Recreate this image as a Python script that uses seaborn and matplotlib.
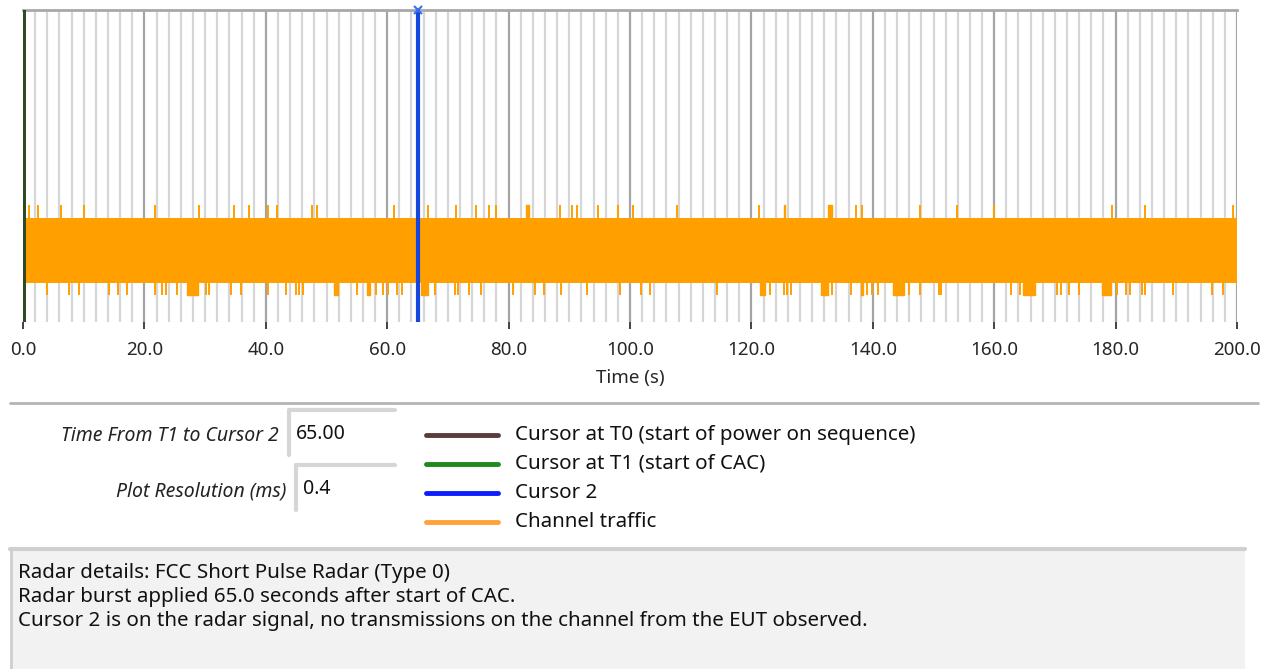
import numpy as np
import pandas as pd
import matplotlib
matplotlib.use("Agg")
import matplotlib.pyplot as plt
import seaborn as sns
from matplotlib.lines import Line2D
from matplotlib.patches import Rectangle

# ---- data ----
t_start, t_end = 0.0, 200.0
band_lo, band_hi = -1.0, 1.0
spike_hi, spike_lo = 1.4, -1.37

cursor_names = ["Cursor at T0 (start of power on sequence)", "Cursor at T1 (start of CAC)",
                "Cursor 2", "Channel traffic"]
cursor_times = [0.0, 0.0, 65.0]
cursor_colors = ["#5a3c3c", "#1e8a1e", "#0b1cff", "#ffa23a"]

spikes_up = [1.0, 2.5, 6.2, 10.1, 21.7, 29.0, 34.8, 37.3, 40.3, 41.8, 47.6, 48.5,
             61.2, 66.7, 71.3, 74.6, 76.7, 78.0, 88.4, 90.5, 91.2, 94.8, 98.0,
             100.5, 107.8, 121.3, 137.3, 138.3, 147.8, 153.8, 159.9, 179.4, 184.8, 199.3]
blocks_up = [(82.9, 83.3), (125.3, 125.6), (132.6, 133.2)]
spikes_down = [3.9, 7.5, 9.2, 14.2, 15.6, 17.1, 21.8, 22.9, 23.5, 25.3, 30.1, 30.6,
               34.3, 35.9, 40.4, 43.4, 44.9, 45.4, 46.1, 55.1, 58.2, 59.3, 60.2, 61.6,
               62.4, 67.9, 71.1, 71.6, 73.4, 75.5, 80.7, 84.4, 85.8, 88.7, 92.9, 98.3,
               101.8, 103.3, 114.3, 123.1, 125.4, 125.9, 126.6, 133.3, 136.4, 139.1,
               139.8, 140.9, 146.0, 147.8, 150.9, 151.3, 162.8, 164.3, 170.3, 171.0,
               172.4, 174.0, 180.3, 181.7, 182.4, 184.3, 184.9, 189.5, 195.9, 197.7]
blocks_down = [(27.0, 28.9), (51.3, 51.9), (56.7, 57.1), (65.5, 66.8), (121.4, 122.2),
               (131.4, 132.6), (138.0, 138.4), (143.4, 145.1), (164.7, 166.8), (177.8, 179.3)]

x_ticks = np.arange(0, 201, 20)
x_minor = np.arange(0, 201, 2)
x_label = "Time (s)"

field_labels = ["Time From T1 to Cursor 2", "Plot Resolution (ms)"]
field_values = ["65.00", "0.4"]

info_lines = ["Radar details: FCC Short Pulse Radar (Type 0)",
              "Radar burst applied 65.0 seconds after start of CAC.",
              "Cursor 2 is on the radar signal, no transmissions on the channel from the EUT observed."]

# ---- figure ----
sns.set_theme(style="white")
plt.rcParams['font.family'] = ['Noto Sans', 'DejaVu Sans']

W, H = 1272, 669
fig = plt.figure(figsize=(W / 100, H / 100), dpi=100)
fig.patch.set_facecolor("white")

def fx(px):
    return px / W

def fy(py):
    return 1 - py / H

ax = fig.add_axes([fx(23), fy(322), fx(1237) - fx(23), fy(10) - fy(322)])
ax.set_xlim(t_start, t_end)
ax.set_ylim(-2.2, 7.4)

orange = "#ffa000"
traffic = pd.DataFrame({"t": [t_start, t_end], "lo": band_lo, "hi": band_hi})
ax.fill_between(traffic["t"], traffic["lo"], traffic["hi"], color=orange, lw=0, zorder=2)
ax.vlines(spikes_up, band_hi, spike_hi, color=orange, lw=1.4, zorder=2)
ax.vlines(spikes_down, spike_lo, band_lo, color=orange, lw=1.4, zorder=2)
for a, b in blocks_up:
    ax.bar(a, spike_hi - band_hi, width=b - a, bottom=band_hi, align="edge", color=orange, lw=1, edgecolor=orange, zorder=2)
for a, b in blocks_down:
    ax.bar(a, band_lo - spike_lo, width=b - a, bottom=spike_lo, align="edge", color=orange, lw=1, edgecolor=orange, zorder=2)

# cursors
ax.axvline(cursor_times[0], color=cursor_colors[0], lw=3.5, zorder=4)
ax.axvline(cursor_times[1], color="#2e4a22", lw=3.5, zorder=4)
ax.axvline(cursor_times[2], color="#1546e0", lw=3, zorder=4)
ax.plot([cursor_times[2]], [7.4], marker="x", color="#3a6cf0", ms=6, mew=1.5, clip_on=False, zorder=5)

# grid
ax.set_xticks(x_ticks)
ax.set_xticks(x_minor, minor=True)
ax.set_xticklabels([f"{v:.1f}" for v in x_ticks], fontsize=13.5)
ax.set_yticks([])
ax.grid(which="major", axis="x", color="#a4a4a4", lw=1.6, zorder=0)
ax.grid(which="minor", axis="x", color="#d6d6d6", lw=1.6, zorder=0)
ax.set_axisbelow(True)
ax.tick_params(axis="x", which="major", direction="out", length=5, width=1.2, color="#222222", pad=9, bottom=True)
ax.tick_params(axis="x", which="minor", length=0)
ax.set_xlabel(x_label, fontsize=13.5, labelpad=7)

for s in ["left", "right", "bottom"]:
    ax.spines[s].set_visible(False)
ax.spines["top"].set_color("#a8a8a8")
ax.spines["top"].set_linewidth(2)

# separator
fig.add_artist(Line2D([fx(10), fx(1258)], [fy(403), fy(403)], color="#b4b4b4", lw=2))

# fields
field_y = [436, 491]
field_right = [279, 286]
for lab, val, y, xr in zip(field_labels, field_values, field_y, field_right):
    fig.text(fx(xr), fy(y), lab, ha="right", va="center", fontsize=14, style="italic", color="#222222")
    top = y - 26
    left = xr + 10
    fig.add_artist(Line2D([fx(left), fx(395)], [fy(top), fy(top)], color="#d6d6d6", lw=3))
    fig.add_artist(Line2D([fx(left), fx(left)], [fy(top), fy(y + 19)], color="#d6d6d6", lw=3))
    fig.text(fx(left + 7), fy(y - 2), val, ha="left", va="center", fontsize=14, color="#111111")

# legend
leg_y = [435, 464, 493, 522]
for name, col, y in zip(cursor_names, cursor_colors, leg_y):
    fig.add_artist(Line2D([fx(426), fx(498)], [fy(y), fy(y)], color=col, lw=3.5))
    fig.text(fx(515), fy(y), name, ha="left", va="center", fontsize=14.8, color="#111111")

# info box
fig.add_artist(Rectangle((fx(10), 0), fx(1245) - fx(10), fy(549), facecolor="#f2f2f2", edgecolor="none"))
fig.add_artist(Line2D([fx(10), fx(1245)], [fy(549), fy(549)], color="#cfcfcf", lw=3))
fig.add_artist(Line2D([fx(11), fx(11)], [fy(549), 0], color="#cfcfcf", lw=2))
for i, line in enumerate(info_lines):
    fig.text(fx(18), fy(573 + 24 * i), line, ha="left", va="center", fontsize=14.8, color="#111111")

fig.savefig("out.png", dpi=100)
